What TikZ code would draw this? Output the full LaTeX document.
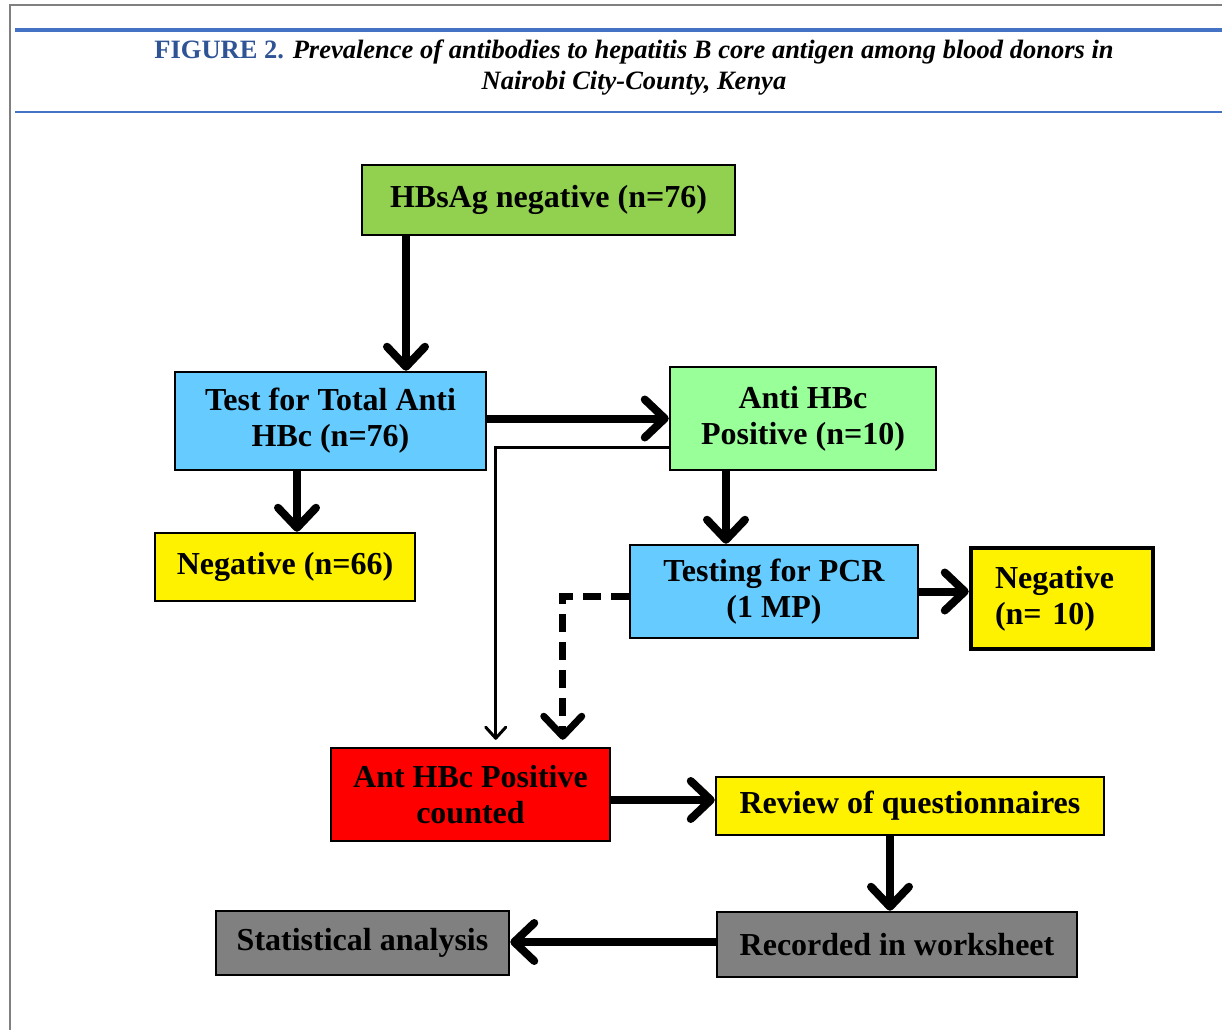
\documentclass[tikz,border=0pt]{standalone}
\usepackage{fontspec}
\setmainfont{Liberation Serif}
\usetikzlibrary{arrows.meta}

\definecolor{capblue}{RGB}{47,84,150}
\definecolor{ruleblue}{RGB}{68,114,196}
\definecolor{boxgreen}{RGB}{146,208,80}
\definecolor{palegreen}{RGB}{153,255,153}
\definecolor{skyblue}{RGB}{102,204,255}
\definecolor{boxgray}{RGB}{128,128,128}

\begin{document}
\begin{tikzpicture}[x=1pt, y=-1pt,
    box/.style={draw, line width=2.5pt, inner sep=0pt, align=center,
        font=\fontsize{32}{36}\selectfont\bfseries},
    arr/.style={line width=8pt, -{Straight Barb[round, length=20pt, width=38pt]}},
    thinarr/.style={line width=3pt, -{Straight Barb[round, length=11pt, width=20pt]}},
    dasharr/.style={line width=7pt, dash pattern=on 18pt off 10pt,
        -{Straight Barb[round, length=20pt, width=38pt]}}]
    \useasboundingbox (0, 0) rectangle (1222, 1030);

    % frame and caption
    \draw[boxgray, line width=2pt] (10, 1030) -- (10, 5) -- (1222, 5);
    \draw[ruleblue, line width=3.5pt] (15, 30) -- (1222, 30);
    \draw[ruleblue, line width=2.5pt] (15, 112) -- (1222, 112);
    \node[align=center, font=\fontsize{26.5}{31}\selectfont\bfseries\itshape]
        (cap) at (634, 68) {{\upshape\color{capblue}FIGURE 2.} Prevalence of
        antibodies to hepatitis B core antigen among blood donors in\\
        Nairobi City-County, Kenya};

    % boxes
    \node[box, fill=boxgreen, minimum width=373pt, minimum height=70pt]
        (hbsag) at (548.5, 200) {HBsAg negative (n=76)};
    \node[box, fill=skyblue, minimum width=311pt, minimum height=98pt]
        (total) at (330.5, 421) {Test for Total Anti\\HBc (n=76)};
    \node[box, fill=palegreen, minimum width=266pt, minimum height=103pt]
        (antipos) at (803, 418.5) {Anti HBc\\Positive (n=10)};
    \node[box, fill=yellow, minimum width=260pt, minimum height=68pt]
        (neg66) at (285, 567) {Negative (n=66)};
    \node[box, fill=skyblue, minimum width=288pt, minimum height=93pt]
        (pcr) at (774, 591.5) {Testing for PCR\\(1 MP)};
    \node[box, fill=yellow, line width=4.5pt, align=left, text width=134pt,
        minimum width=182pt, minimum height=101pt]
        (neg10) at (1062, 598.5) {Negative\\(n= 10)};
    \node[box, fill=red, minimum width=279pt, minimum height=93pt]
        (counted) at (470.5, 794.5) {Ant HBc Positive\\counted};
    \node[box, fill=yellow, minimum width=388pt, minimum height=58pt]
        (review) at (910, 806) {Review of questionnaires};
    \node[box, fill=boxgray, minimum width=360pt, minimum height=65pt]
        (recorded) at (897, 944.5) {Recorded in worksheet};
    \node[box, fill=boxgray, minimum width=293pt, minimum height=64pt]
        (stats) at (362.5, 943) {Statistical analysis};

    % connectors
    \coordinate (c1) at ([xshift=-142.5pt]hbsag.south);
    \coordinate (c2) at ([xshift=-33.5pt]total.south);
    \coordinate (c3) at ([xshift=-77pt]antipos.south);
    \coordinate (c4) at ([xshift=233pt]counted.north west);
    \coordinate (c5) at ([xshift=166pt]counted.north west);
    \coordinate (c6) at ([yshift=-5.5pt]counted.east);
    \coordinate (c7) at ([xshift=-20pt]review.south);
    \coordinate (c8) at ([yshift=2.5pt]recorded.west);
    \draw[arr] (c1) -- (c1 |- total.north);
    \draw[arr] (total.east |- antipos.west) -- (antipos.west);
    \draw[thinarr, shorten >=7pt] ([yshift=-28.5pt]antipos.west) -| (c5);
    \draw[arr] (c2) -- (c2 |- neg66.north);
    \draw[arr] (c3) -- (c3 |- pcr.north);
    \draw[arr] (pcr.east) -- (pcr.east -| neg10.west);
    \draw[dasharr, shorten >=7pt] ([yshift=-4.5pt]pcr.west) -| (c4);
    \draw[arr] (c6) -- (c6 -| review.west);
    \draw[arr] (c7) -- (c7 |- recorded.north);
    \draw[arr] (c8) -- (c8 -| stats.east);
\end{tikzpicture}
\end{document}
